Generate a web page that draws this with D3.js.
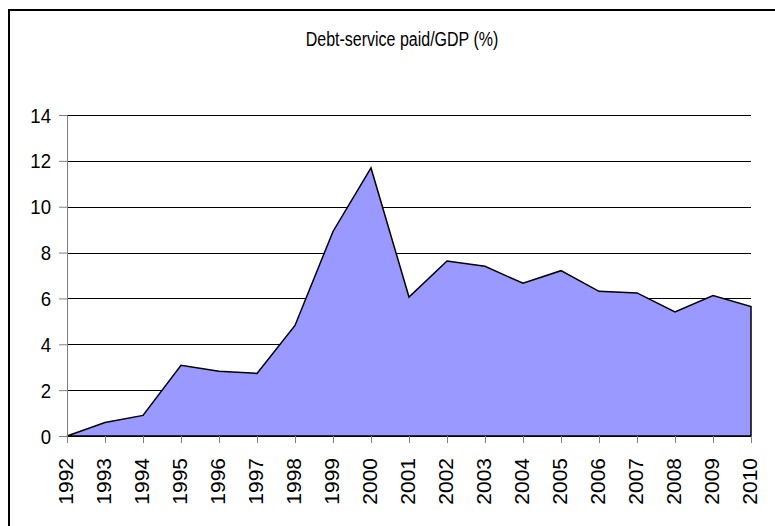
<!DOCTYPE html>
<html>
<head>
<meta charset="utf-8">
<script src="https://cdn.jsdelivr.net/npm/d3@7"></script>
<style>
  body { margin: 0; background: #fff; }
  text { font-family: "Liberation Sans", Arial, sans-serif; fill: #000; }
</style>
</head>
<body>
<div id="container"></div>
<script>
// data
const years = ["1992","1993","1994","1995","1996","1997","1998","1999","2000","2001",
               "2002","2003","2004","2005","2006","2007","2008","2009","2010"];
const debtService = [0, 0.59, 0.9, 3.08, 2.82, 2.73, 4.82, 8.92, 11.69, 6.06,
                     7.63, 7.4, 6.66, 7.21, 6.31, 6.24, 5.41, 6.13, 5.65];
const yTicks = [0, 2, 4, 6, 8, 10, 12, 14];
const title = "Debt-service paid/GDP (%)";

const W = 775, H = 526;
const margin = {top: 115, right: 24, bottom: 90, left: 67},
  width = W - margin.left - margin.right,
  height = H - margin.top - margin.bottom;

const svgRoot = d3.select("#container")
  .append("svg")
    .attr("width", W)
    .attr("height", H);

// outer frame (runs off the right and bottom of the picture)
svgRoot.append("rect")
  .attr("x", 9).attr("y", 10)
  .attr("width", W + 20).attr("height", H + 20)
  .style("fill", "none")
  .style("stroke", "#000")
  .style("stroke-width", 2);

// title, a bit condensed like the original
svgRoot.append("text")
  .attr("transform", "translate(402,46) scale(0.8,1)")
  .attr("text-anchor", "middle")
  .style("font-size", "20px")
  .text(title);

const svg = svgRoot.append("g")
  .attr("transform", `translate(${margin.left},${margin.top})`);

const x = d3.scalePoint()
  .domain(years)
  .range([0, width]);

const y = d3.scaleLinear()
  .domain([0, 14])
  .range([height, 0]);

// horizontal gridlines
svg.selectAll(".grid")
  .data(yTicks)
  .join("line")
    .attr("class", "grid")
    .attr("x1", 0)
    .attr("x2", width)
    .attr("y1", d => Math.round(y(d)) + 0.5)
    .attr("y2", d => Math.round(y(d)) + 0.5)
    .style("stroke", "#000")
    .style("stroke-width", 1);

// area
const area = d3.area()
  .x((d, i) => x(years[i]))
  .y0(y(0))
  .y1(d => y(d));

svg.append("path")
  .datum(debtService)
  .attr("d", d => area(d) + "")
  .style("fill", "#9999ff")
  .style("stroke", "#000")
  .style("stroke-width", 1.5)
  .style("stroke-linejoin", "miter");

// y axis
const yAxis = svg.append("g")
  .call(d3.axisLeft(y).tickValues(yTicks).tickSize(8).tickPadding(0).tickFormat(d3.format("d")));
yAxis.select(".domain").style("stroke", "#808080");
yAxis.selectAll(".tick line").style("stroke", "#808080");
yAxis.selectAll(".tick text")
  .attr("x", null)
  .attr("dy", "0.35em")
  .attr("transform", "translate(-16,0) scale(0.93,1)")
  .style("font-size", "20px");

// x axis
const xAxis = svg.append("g")
  .attr("transform", `translate(0,${height})`)
  .call(d3.axisBottom(x).tickSize(7).tickSizeOuter(0));
xAxis.select(".domain").style("stroke", "#000");
xAxis.selectAll(".tick line").style("stroke", "#808080");
xAxis.selectAll(".tick text")
  .attr("y", 0)
  .attr("x", 0)
  .attr("dy", null)
  .attr("text-anchor", "end")
  .attr("transform", "rotate(-90) translate(-22,5)")
  .style("font-size", "21px");
</script>
</body>
</html>
